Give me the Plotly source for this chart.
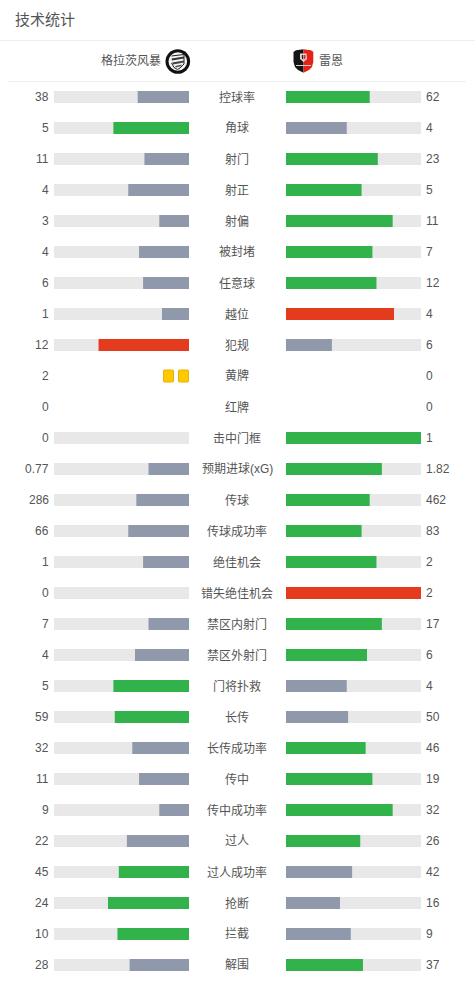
import math
import plotly.graph_objects as go

W, H = 475, 981
FONT = "Liberation Sans, Noto Sans CJK SC, sans-serif"
TXT = "#555555"

labels = ["控球率","角球","射门","射正","射偏","被封堵","任意球","越位","犯规","黄牌","红牌","击中门框",
          "预期进球(xG)","传球","传球成功率","绝佳机会","错失绝佳机会","禁区内射门","禁区外射门","门将扑救",
          "长传","长传成功率","传中","传中成功率","过人","过人成功率","抢断","拦截","解围"]
home_text = ["38","5","11","4","3","4","6","1","12","2","0","0","0.77","286","66","1","0","7","4","5",
             "59","32","11","9","22","45","24","10","28"]
away_text = ["62","4","23","5","11","7","12","4","6","0","0","1","1.82","462","83","2","2","17","6","4",
             "50","46","19","32","26","42","16","9","37"]
home_team = "格拉茨风暴"
away_team = "雷恩"
title = "技术统计"
negative_stats = ["越位", "犯规", "错失绝佳机会"]
card_stats = ["黄牌", "红牌"]

GREEN, GREY, RED, TRACK, YELLOW = "#31b24a", "#8f99ab", "#e43b1e", "#e8e8e8", "#ffc800"

home = [float(v) for v in home_text]
away = [float(v) for v in away_text]
rows = list(range(len(labels)))
bar_rows = [i for i in rows if labels[i] not in card_stats]

def share(a, b):
    # the page rounds each bar up to a whole percent
    return math.ceil(round(100 * a / (a + b), 6)) / 100 if a + b else 0

def colour(label, mine, other):
    if mine > other:
        return RED if label in negative_stats else GREEN
    return GREY

fig = go.Figure()
BAR_W = 12 / 31
for xaxis, vals, others in (("x", home, away), ("x2", away, home)):
    fig.add_trace(go.Bar(orientation="h", y=bar_rows, x=[1] * len(bar_rows), xaxis=xaxis, yaxis="y",
                         width=BAR_W, marker=dict(color=TRACK, line_width=0), hoverinfo="skip", showlegend=False))
    fig.add_trace(go.Bar(orientation="h", y=bar_rows, x=[share(vals[i], others[i]) for i in bar_rows],
                         xaxis=xaxis, yaxis="y", width=BAR_W,
                         marker=dict(color=[colour(labels[i], vals[i], others[i]) for i in bar_rows], line_width=0),
                         showlegend=False))

# yellow cards: one rounded card per booking
yi = labels.index("黄牌")
card_w, card_gap = 10 / 135, 15 / 135
for n in range(int(home[yi])):
    fig.add_trace(go.Bar(orientation="h", y=[yi], x=[card_w], base=[n * card_gap + 0.5 / 135], xaxis="x", yaxis="y",
                         width=12 / 31, showlegend=False,
                         marker=dict(color=YELLOW, line=dict(color="#e3b400", width=1), cornerradius=1)))

fig.update_layout(
    width=W, height=H, margin=dict(l=0, r=0, t=0, b=0, autoexpand=False),
    paper_bgcolor="white", plot_bgcolor="white", barmode="overlay", showlegend=False,
    font=dict(family=FONT, color=TXT, size=12),
    xaxis=dict(domain=[54 / W, 189 / W], range=[1, 0], visible=False, fixedrange=True),
    xaxis2=dict(domain=[286 / W, 421 / W], range=[0, 1], visible=False, fixedrange=True),
    yaxis=dict(range=[(H - 97) / 31, -97 / 31], visible=False, fixedrange=True),
)

def px(x): return x / W
def py(y): return 1 - y / H

anns = [dict(text=title, x=px(13), y=py(20), xref="paper", yref="paper", xanchor="left", yanchor="middle",
             showarrow=False, font=dict(size=15, color="#555555")),
        dict(text=home_team, x=px(163), y=py(61), xref="paper", yref="paper", xanchor="right", yanchor="middle",
             showarrow=False, font=dict(size=12)),
        dict(text=away_team, x=px(317), y=py(61), xref="paper", yref="paper", xanchor="left", yanchor="middle",
             showarrow=False, font=dict(size=12))]
for i in rows:
    anns.append(dict(text=labels[i], x=px(237), y=i, xref="paper", yref="y", xanchor="center", yanchor="middle",
                     showarrow=False, font=dict(size=12)))
    anns.append(dict(text=home_text[i], x=px(50.5), y=i, xref="paper", yref="y", xanchor="right", yanchor="middle",
                     showarrow=False, font=dict(size=12)))
    anns.append(dict(text=away_text[i], x=px(423.5), y=i, xref="paper", yref="y", xanchor="left", yanchor="middle",
                     showarrow=False, font=dict(size=12)))
fig.update_layout(annotations=anns)

def line(x0, x1, y, c="#eeeeee"):
    return dict(type="line", xref="paper", yref="paper", x0=px(x0), x1=px(x1), y0=py(y), y1=py(y),
                line=dict(color=c, width=1))

def circle(cx, cy, r, fill):
    return dict(type="circle", xref="paper", yref="paper", x0=px(cx - r), x1=px(cx + r),
                y0=py(cy + r), y1=py(cy - r), fillcolor=fill, line_width=0)

def path(pts, fill=None, stroke=None, w=1):
    d = "M " + " L ".join(f"{px(x):.5f},{py(y):.5f}" for x, y in pts) + (" Z" if fill else "")
    return dict(type="path", xref="paper", yref="paper", path=d, fillcolor=fill or "rgba(0,0,0,0)",
                line=dict(color=stroke or fill, width=w if stroke else 0))

shapes = [line(0, 475, 40.5), line(8, 466, 81.5),
          # Sturm Graz crest
          circle(177.8, 61.5, 12.3, "#111111"), circle(177.8, 61.5, 9.3, "#f4f4f4"),
          path([(171.5, 56), (184, 54.5), (184, 64), (180, 68), (177.5, 69.5), (174, 67.5), (171.5, 63)],
               None, "#222222", 1),
          path([(171.5, 58.5), (184, 56.5), (184, 58.5), (172, 60.5)], "#333333"),
          path([(172, 62.5), (184, 60.5), (184, 62.5), (173, 64.5)], "#444444"),
          path([(175, 66), (182, 64.5), (181, 66.2), (176, 67.5)], "#555555"),
          # Rennes crest
          path([(296, 50.3), (303.5, 49.3), (303.5, 72.7), (298, 70), (295, 67), (293.5, 62), (293.5, 52)], "#141414"),
          path([(303.5, 49.3), (311, 50.3), (313.3, 52), (313.3, 62), (312, 67), (309, 70), (303.5, 72.7)], "#e2231a"),
          path([(300, 53.5), (306.5, 53.5), (307, 59), (303.5, 62), (300, 59)], "#e9d4d4"),
          path([(301.8, 55), (303.3, 55), (303.3, 59.5), (301.8, 58.5)], "#222222"),
          path([(304, 55), (305.5, 55), (305.5, 58.5), (304, 59.5)], "#c9302a"),
          path([(296, 65.5), (311, 65.5)], None, "#d8d0d0", 1)]
fig.update_layout(shapes=shapes)

fig.write_html("out.html", config=dict(displayModeBar=False),
               post_script="document.body.style.margin='0';")
